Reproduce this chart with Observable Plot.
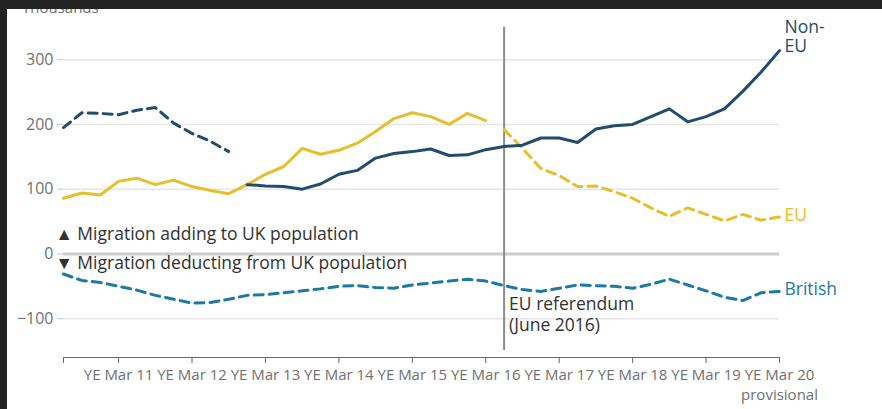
<!DOCTYPE html>
<html><head><meta charset="utf-8">
<script src="https://cdn.jsdelivr.net/npm/d3@7"></script>
<script src="https://cdn.jsdelivr.net/npm/@observablehq/plot@0.6"></script>
<style>
html,body{margin:0;padding:0;background:#232323;width:882px;height:409px;overflow:hidden}
#card{position:absolute;left:7px;top:9px;width:875px;height:400px;background:#fff;overflow:hidden;font-family:"Open Sans",sans-serif}
#units{position:absolute;left:15px;top:-12px;font-size:15px;line-height:20px;color:#707070}
#chart{position:absolute;left:0;top:0}
</style></head><body>
<div id="card"><div id="units">Thousands</div><div id="chart"></div></div>
<script>
// Quarterly periods (year ending)
const periods = [
  "YE Jun 10","YE Sep 10","YE Dec 10","YE Mar 11","YE Jun 11","YE Sep 11","YE Dec 11","YE Mar 12",
  "YE Jun 12","YE Sep 12","YE Dec 12","YE Mar 13","YE Jun 13","YE Sep 13","YE Dec 13","YE Mar 14",
  "YE Jun 14","YE Sep 14","YE Dec 14","YE Mar 15","YE Jun 15","YE Sep 15","YE Dec 15","YE Mar 16",
  "YE Jun 16","YE Sep 16","YE Dec 16","YE Mar 17","YE Jun 17","YE Sep 17","YE Dec 17","YE Mar 18",
  "YE Jun 18","YE Sep 18","YE Dec 18","YE Mar 19","YE Jun 19","YE Sep 19","YE Dec 19","YE Mar 20"
];
// x-axis ticks and their labels
const axisTicks = ["YE Jun 10","YE Mar 11","YE Mar 12","YE Mar 13","YE Mar 14","YE Mar 15","YE Mar 16","YE Mar 17","YE Mar 18","YE Mar 19","YE Mar 20"];
const axisLabels = ["","YE Mar 11","YE Mar 12","YE Mar 13","YE Mar 14","YE Mar 15","YE Mar 16","YE Mar 17","YE Mar 18","YE Mar 19","YE Mar 20\nprovisional"];
const yTicks = [-100, 0, 100, 200, 300];
const gridTicks = [-100, 100, 200, 300];

// Non-EU, earlier estimates (YE Jun 10 – YE Sep 12), dashed
const nonEuEarlyPeriods = periods.slice(0, 10);
const nonEuEarly = [195, 218, 217, 215, 222, 226, 202, 186, 174, 158];
// Non-EU (YE Dec 12 – YE Mar 20), solid
const nonEuPeriods = periods.slice(10);
const nonEu = [107, 105, 104, 100, 108, 123, 129, 148, 155, 158, 162, 152, 153, 161,
               166, 168, 179, 179, 172, 193, 198, 200, 212, 224, 204, 212, 224, 251, 281, 314];
// EU (YE Jun 10 – YE Mar 16), solid
const euPeriods = periods.slice(0, 24);
const eu = [86, 94, 91, 112, 117, 107, 114, 104, 98, 93, 107, 123, 135, 163, 154, 160,
            171, 189, 209, 218, 212, 200, 217, 206];
// EU adjusted (YE Jun 16 – YE Mar 20), dashed
const euAdjPeriods = periods.slice(24);
const euAdj = [192, 163, 132, 121, 104, 105, 96, 86, 71, 58, 71, 61, 51, 61, 52, 57];
// British (all periods), dashed
const british = [-31, -41, -44, -50, -56, -64, -70, -76, -75, -70, -64, -63, -60, -57, -54, -50,
                 -49, -52, -53, -48, -45, -42, -39, -42, -49, -55, -58, -53, -48, -49, -50, -53,
                 -47, -39, -48, -57, -67, -72, -60, -58];

const referendumPeriod = "YE Jun 16";

const colNonEu = "#234b6e", colEu = "#e6bf2c", colBritish = "#1b79a4";

const rows = (ps, vs) => ps.map((p, i) => ({period: p, value: vs[i]}));
const nonEuEarlyData = rows(nonEuEarlyPeriods, nonEuEarly);
const nonEuData = rows(nonEuPeriods, nonEu);
const euData = rows(euPeriods, eu);
const euAdjData = rows(euAdjPeriods, euAdj);
const britishData = rows(periods, british);
const labelOf = new Map(axisTicks.map((t, i) => [t, axisLabels[i]]));
const last = a => [a[a.length - 1]];

const dash = "9,6";
const chart = Plot.plot({
  width: 875, height: 400,
  marginLeft: 56, marginRight: 103, marginTop: 17.8, marginBottom: 52,
  style: {fontFamily: "Open Sans", fontSize: "15px", color: "#707070", background: "transparent", overflow: "visible"},
  x: {type: "point", domain: periods, padding: 0, round: false},
  y: {domain: [-160, 350]},
  marks: [
    Plot.gridY(gridTicks, {stroke: "#e6e6e6", strokeOpacity: 1, strokeWidth: 1.5}),
    Plot.ruleY([0], {stroke: "#cccccc", strokeWidth: 3}),
    Plot.ruleY([-160], {stroke: "#666"}),
    Plot.axisY(yTicks, {tickSize: 6, tickPadding: 4, stroke: "#c4c4c4", fill: "#707070", fontSize: 16, label: null}),
    Plot.axisX(axisTicks, {tickSize: 6, tickPadding: 3, stroke: "#666", fill: "#707070", fontSize: 15, lineHeight: 1.3, tickFormat: d => labelOf.get(d), label: null}),
    Plot.ruleX([referendumPeriod], {y1: -149, y2: 350, stroke: "#8c8c8c", strokeWidth: 2}),
    Plot.line(britishData, {x: "period", y: "value", stroke: colBritish, strokeWidth: 3, strokeDasharray: dash}),
    Plot.line(euData, {x: "period", y: "value", stroke: colEu, strokeWidth: 3}),
    Plot.line(euAdjData, {x: "period", y: "value", stroke: colEu, strokeWidth: 3, strokeDasharray: dash}),
    Plot.line(nonEuEarlyData, {x: "period", y: "value", stroke: colNonEu, strokeWidth: 3, strokeDasharray: dash}),
    Plot.line(nonEuData, {x: "period", y: "value", stroke: colNonEu, strokeWidth: 3}),
    Plot.text(last(nonEuData), {x: "period", y: "value", text: () => "Non-\nEU", textAnchor: "start", dx: 5, dy: -14, lineHeight: 1.08, fill: colNonEu, fontSize: 17.5}),
    Plot.text(last(euAdjData), {x: "period", y: "value", text: () => "EU", textAnchor: "start", dx: 5, dy: -2, fill: colEu, fontSize: 17.5}),
    Plot.text(last(britishData), {x: "period", y: "value", text: () => "British", textAnchor: "start", dx: 5, dy: -2, fill: colBritish, fontSize: 17.5}),
    Plot.text([{period: periods[0], value: 30}], {x: "period", y: "value", text: () => "▲ Migration adding to UK population", textAnchor: "start", dx: -8, fill: "#323132", fontSize: 17.5}),
    Plot.text([{period: periods[0], value: -15}], {x: "period", y: "value", text: () => "▼ Migration deducting from UK population", textAnchor: "start", dx: -8, fill: "#323132", fontSize: 17.5}),
    Plot.text([{period: referendumPeriod, value: -93}], {x: "period", y: "value", text: () => "EU referendum\n(June 2016)", textAnchor: "start", dx: 5, lineHeight: 1.2, fill: "#323132", fontSize: 17.5})
  ]
});
document.getElementById("chart").appendChild(chart);
</script>
</body></html>
